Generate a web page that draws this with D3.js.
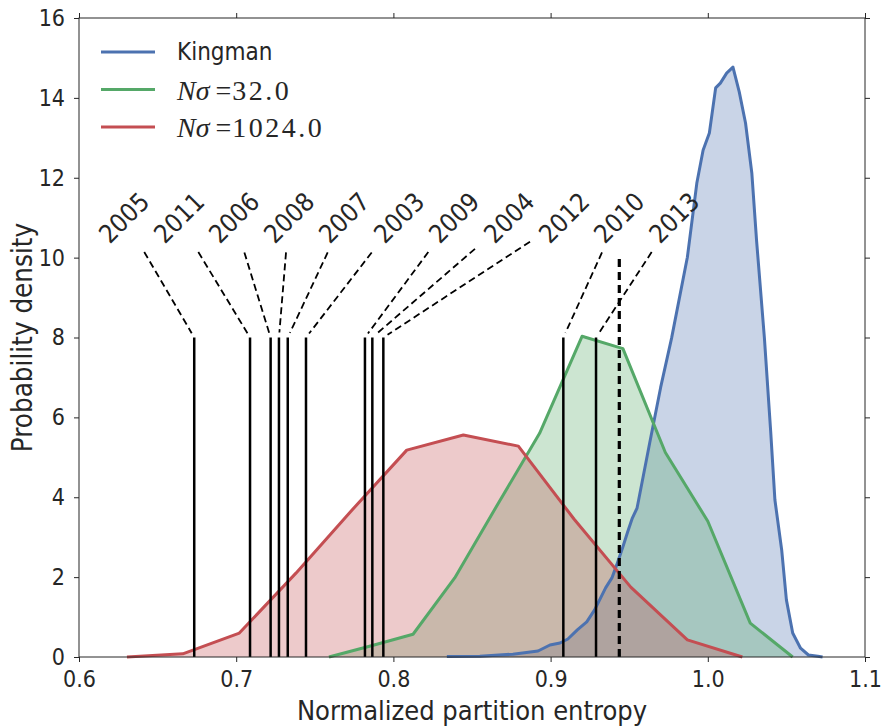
<!DOCTYPE html>
<html>
<head>
<meta charset="utf-8">
<script src="https://cdn.jsdelivr.net/npm/d3@7"></script>
<style>
  body { margin: 0; background: #fff; }
  svg { display: block; }
  .sans { font-family: "DejaVu Sans Condensed", "DejaVu Sans", sans-serif; font-stretch: condensed; fill: #262626; }
  .serif { font-family: "Liberation Serif", "DejaVu Serif", serif; fill: #262626; }
</style>
</head>
<body>
<script>
// ---- data ----
const kingmanX = [0.834, 0.855, 0.876, 0.892, 0.8996, 0.906, 0.911, 0.917, 0.923, 0.928, 0.935, 0.939, 0.942, 0.946, 0.949, 0.952, 0.955, 0.956, 0.963, 0.970, 0.977, 0.987, 0.993, 0.997, 1.001, 1.005, 1.008, 1.012, 1.016, 1.020, 1.024, 1.028, 1.031, 1.036, 1.040, 1.0427, 1.047, 1.050, 1.054, 1.059, 1.064, 1.070, 1.073];
const kingmanY = [0.01, 0.02, 0.07, 0.15, 0.30, 0.35, 0.45, 0.68, 0.88, 1.18, 1.73, 1.98, 2.30, 2.76, 3.13, 3.48, 3.73, 3.93, 5.35, 6.75, 7.99, 10.01, 11.86, 12.69, 13.12, 14.25, 14.37, 14.62, 14.77, 14.15, 13.37, 12.12, 10.44, 7.99, 5.65, 3.93, 2.68, 1.43, 0.60, 0.22, 0.05, 0.02, 0.0];

const sigma32X = [0.759, 0.786, 0.8125, 0.839, 0.866, 0.893, 0.920, 0.946, 0.973, 1.000, 1.027, 1.054];
const sigma32Y = [0.0, 0.28, 0.57, 1.98, 3.8, 5.6, 8.03, 7.72, 5.12, 3.4, 0.85, 0.0];

const sigma1024X = [0.6305, 0.666, 0.702, 0.738, 0.773, 0.8085, 0.8445, 0.8795, 0.915, 0.951, 0.987, 1.022];
const sigma1024Y = [0.0, 0.08, 0.6, 2.1, 3.65, 5.18, 5.56, 5.28, 3.45, 1.75, 0.43, 0.0];

const seriesNames = ["Kingman", "Nσ=32.0", "Nσ=1024.0"];
const seriesColors = ["#4C72B0", "#55A868", "#C44E52"];

const years = ["2005", "2011", "2006", "2008", "2007", "2003", "2009", "2004", "2012", "2010", "2013"];
const yearEntropy = [0.6733, 0.7088, 0.7219, 0.7272, 0.7328, 0.7444, 0.7819, 0.7866, 0.7936, 0.9081, 0.9289];
const yearLineTop = 8;
const labelCenterX = [0.6286, 0.6636, 0.6986, 0.7336, 0.7686, 0.8036, 0.8386, 0.8736, 0.9086, 0.9436, 0.9786];
const labelCenterY = 11.0;
const connectorStartX = [0.6415, 0.6759, 0.7052, 0.7317, 0.7582, 0.7862, 0.8222, 0.8519, 0.8869, 0.9327, 0.9643];
const connectorStartY = [10.14, 10.14, 10.13, 10.13, 10.13, 10.13, 10.14, 10.22, 10.40, 10.13, 10.14];

const dashedMarkX = 0.9437;
const dashedMarkTop = 10;

const xTicks = [0.6, 0.7, 0.8, 0.9, 1.0, 1.1];
const yTicks = [0, 2, 4, 6, 8, 10, 12, 14, 16];

// ---- layout ----
const W = 881, H = 728;
const m = { left: 79, right: 16, top: 18, bottom: 71 };
const iw = W - m.left - m.right, ih = H - m.top - m.bottom;

const svg = d3.select("body").append("svg").attr("width", W).attr("height", H);
const g = svg.append("g").attr("transform", `translate(${m.left},${m.top})`);

const x = d3.scaleLinear().domain([0.6, 1.1]).range([0, iw]);
const y = d3.scaleLinear().domain([0, 16]).range([ih, 0]);

const series = [
  { xs: kingmanX, ys: kingmanY },
  { xs: sigma32X, ys: sigma32Y },
  { xs: sigma1024X, ys: sigma1024Y }
].map((s, i) => ({ pts: s.xs.map((v, j) => [v, s.ys[j]]), color: seriesColors[i], name: seriesNames[i] }));

const area = d3.area().x(d => x(d[0])).y0(y(0)).y1(d => y(d[1]));
const line = d3.line().x(d => x(d[0])).y(d => y(d[1]));

const plot = g.append("g");
series.forEach(s => {
  plot.append("path").datum(s.pts).attr("d", area).attr("fill", s.color).attr("fill-opacity", 0.3);
});
series.forEach(s => {
  plot.append("path").datum(s.pts).attr("d", line).attr("fill", "none")
    .attr("stroke", s.color).attr("stroke-width", 3).attr("stroke-linejoin", "round");
});

// year vertical lines
years.forEach((yr, i) => {
  plot.append("line")
    .attr("x1", x(yearEntropy[i])).attr("x2", x(yearEntropy[i]))
    .attr("y1", y(0)).attr("y2", y(yearLineTop))
    .attr("stroke", "#000").attr("stroke-width", 2.5);
});
// dashed vertical mark
plot.append("line")
  .attr("x1", x(dashedMarkX)).attr("x2", x(dashedMarkX))
  .attr("y1", y(0)).attr("y2", y(dashedMarkTop))
  .attr("stroke", "#000").attr("stroke-width", 3.2).attr("stroke-dasharray", "8,5");

// connectors + labels
years.forEach((yr, i) => {
  const sx = x(connectorStartX[i]), sy = y(connectorStartY[i]);
  const tx = x(yearEntropy[i]), ty = y(yearLineTop);
  const dx = tx - sx, dy = ty - sy, len = Math.hypot(dx, dy);
  const ex = tx - dx / len * 5, ey = ty - dy / len * 5;
  plot.append("line").attr("x1", sx).attr("y1", sy).attr("x2", ex).attr("y2", ey)
    .attr("stroke", "#000").attr("stroke-width", 1.8).attr("stroke-dasharray", "7,4");
  const cx = x(labelCenterX[i]), cy = y(labelCenterY);
  g.append("text").attr("class", "sans")
    .attr("x", cx).attr("y", cy)
    .attr("text-anchor", "middle").attr("dominant-baseline", "central")
    .attr("transform", `rotate(-45,${cx},${cy})`)
    .style("font-size", "25.5px")
    .text(yr);
});

// axes / spines
const spineColor = "#262626";
g.append("rect").attr("x", 0).attr("y", 0).attr("width", iw).attr("height", ih)
  .attr("fill", "none").attr("stroke", spineColor).attr("stroke-width", 1);

const xAxis = g.append("g").attr("transform", `translate(0,${ih})`)
  .call(d3.axisBottom(x).tickValues(xTicks).tickSize(5).tickPadding(9).tickFormat(d3.format(".1f")));
const yAxis = g.append("g")
  .call(d3.axisLeft(y).tickValues(yTicks).tickSize(5).tickPadding(9).tickFormat(d3.format("d")));
const xTop = g.append("g").call(d3.axisTop(x).tickValues(xTicks).tickSize(5).tickFormat(""));
const yRight = g.append("g").attr("transform", `translate(${iw},0)`)
  .call(d3.axisRight(y).tickValues(yTicks).tickSize(5).tickFormat(""));
[xAxis, yAxis, xTop, yRight].forEach(a => {
  a.select(".domain").remove();
  a.selectAll(".tick line").attr("stroke", spineColor);
  a.selectAll(".tick text").attr("class", "sans").style("font-size", "23px").attr("fill", "#262626");
});

// axis labels
g.append("text").attr("class", "sans").attr("x", iw / 2).attr("y", ih + 63)
  .attr("text-anchor", "middle").style("font-size", "27px").text("Normalized partition entropy");
g.append("text").attr("class", "sans")
  .attr("transform", `translate(${22 - m.left},${ih / 2}) rotate(-90)`)
  .attr("text-anchor", "middle").attr("dominant-baseline", "central")
  .style("font-size", "27.5px").text("Probability density");

// legend
const leg = svg.append("g");
const legY = [52, 89.5, 127];
series.forEach((s, i) => {
  leg.append("line").attr("x1", 101).attr("x2", 155).attr("y1", legY[i]).attr("y2", legY[i])
    .attr("stroke", s.color).attr("stroke-width", 3);
});
leg.append("text").attr("class", "sans").attr("x", 177).attr("y", legY[0])
  .attr("dominant-baseline", "central").style("font-size", "24px").text(seriesNames[0]);
[1, 2].forEach(i => {
  const parts = seriesNames[i].split("=");
  const t = leg.append("text").attr("class", "serif").attr("x", 177).attr("y", legY[i])
    .attr("dominant-baseline", "central").style("font-size", "28px");
  t.append("tspan").style("font-style", "italic").text(parts[0]);
  t.append("tspan").attr("dx", 6).text("=");
  t.append("tspan").attr("dx", 1).style("letter-spacing", "2.5px").text(parts[1]);
});
</script>
</body>
</html>
